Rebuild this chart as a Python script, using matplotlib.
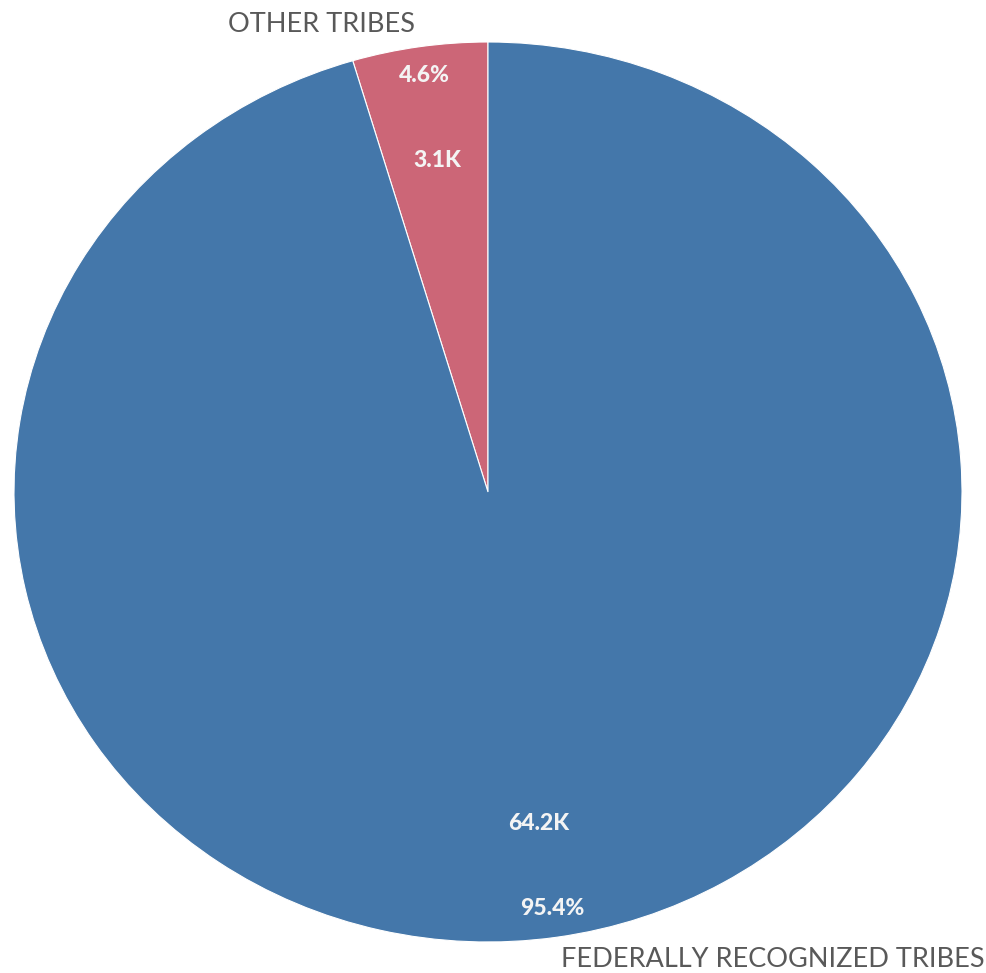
import numpy as np
import matplotlib
matplotlib.use("Agg")
import matplotlib.pyplot as plt

categories = ["FEDERALLY RECOGNIZED TRIBES", "OTHER TRIBES"]
values = [64200, 3100]
value_labels = ["64.2K", "3.1K"]
colors = ["#4477aa", "#cc6677"]

W, H = 987, 973
fig = plt.figure(figsize=(W / 100, H / 100), dpi=100)
# pie ellipse spans x 14..962, y 42..942 (top-origin pixels)
ax = fig.add_axes([14 / W, (H - 942) / H, 948 / W, 900 / H])

total = sum(values)
# Other tribes starts at 12 o'clock going counterclockwise; federal fills the rest
order = [1, 0]
vals = [values[i] for i in order]
cols = [colors[i] for i in order]
wedges, _ = ax.pie(vals, colors=cols, startangle=90, counterclock=True,
                   wedgeprops=dict(edgecolor="white", linewidth=0.8))
ax.set_aspect("auto")
ax.set_xlim(-1, 1)
ax.set_ylim(-1, 1)
ax.axis("off")

font = "Lato"
for w, idx in zip(wedges, order):
    mid = np.deg2rad((w.theta1 + w.theta2) / 2)
    c, s = np.cos(mid), np.sin(mid)
    pct = values[idx] / total * 100
    ax.text(0.935 * c, 0.935 * s, f"{pct:.1f}%", ha="center", va="center",
            color="#f4f4f4", fontsize=16.5, fontweight="black", family=font)
    ax.text(0.745 * c, 0.745 * s, value_labels[idx], ha="center", va="center",
            color="#f4f4f4", fontsize=16.5, fontweight="black", family=font)
    ha = "left" if c > 0 else "right"
    ax.text(1.07 * c, 1.05 * s, categories[idx], ha=ha, va="center",
            color="#595959", fontsize=19.5, family=font, clip_on=False)

fig.savefig("out.png", dpi=100)
